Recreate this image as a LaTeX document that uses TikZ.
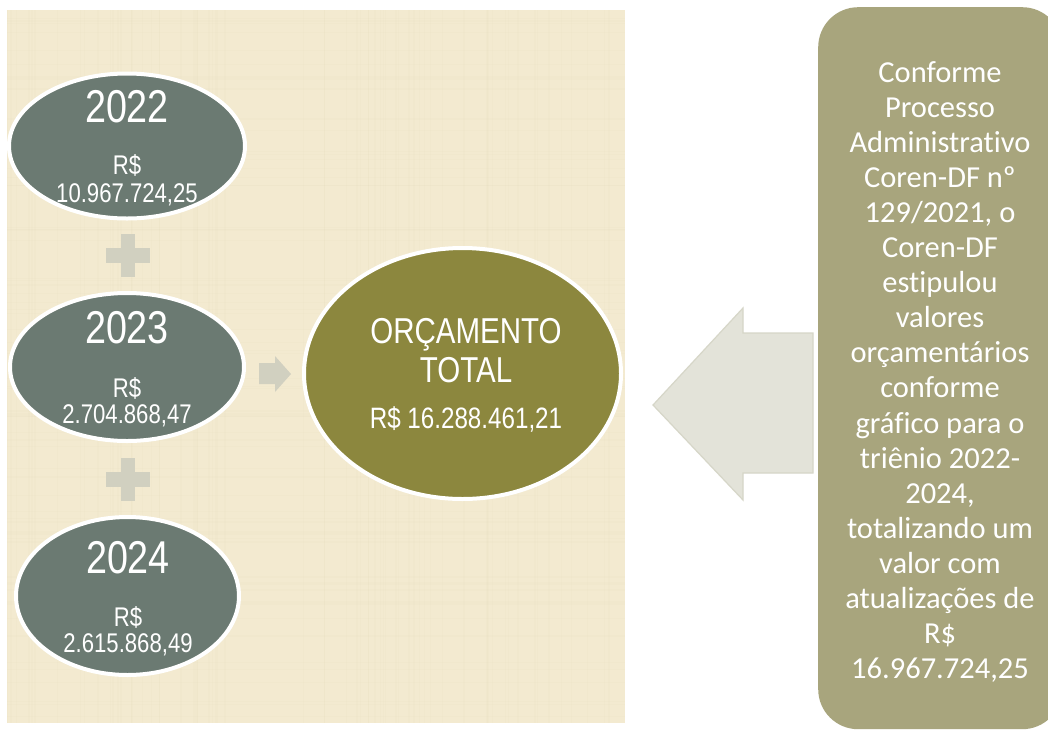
\documentclass[tikz,border=0pt]{standalone}
\usepackage{fontspec}
\setmainfont{Liberation Sans}
\newfontfamily\narfont[FakeStretch=0.82]{Liberation Sans}
\newfontfamily\carlfont[Ligatures={NoCommon,NoContextual}]{Carlito}
\newcommand{\nolig}{\kern0pt }
\usetikzlibrary{shapes.geometric}
\definecolor{bgcream}{RGB}{243,234,208}
\definecolor{bgline}{RGB}{214,202,168}
\definecolor{yearfill}{RGB}{107,122,114}
\definecolor{totalfill}{RGB}{140,135,62}
\definecolor{boxfill}{RGB}{168,165,125}
\definecolor{plusfill}{RGB}{209,208,192}
\definecolor{bigarrow}{RGB}{227,227,217}
\definecolor{bigarrowline}{RGB}{214,214,200}
\begin{document}
\begin{tikzpicture}[x=1pt,y=-1pt,
  ell/.style={ellipse, draw=white, line width=4pt, inner sep=0pt},
  yearell/.style={ell, fill=yearfill},
  totalell/.style={ell, fill=totalfill},
  txt/.style={text=white, inner sep=0pt, anchor=base},
  yeartxt/.style={txt, font=\narfont\fontsize{46}{50}\selectfont},
  amounttxt/.style={txt, font=\narfont\fontsize{27}{30}\selectfont},
  totaltxt/.style={txt, font=\narfont\fontsize{36}{40}\selectfont},
  totalamount/.style={txt, font=\narfont\fontsize{29.5}{33}\selectfont},
  plusshape/.style={fill=plusfill}
]
\useasboundingbox (0,0) rectangle (1048,731);
\fill[white] (0,0) rectangle (1048,731);
% textured background
\fill[bgcream] (7,10) rectangle (625,723);
\begin{scope}
\clip (7,10) rectangle (625,723);
\pgfmathsetseed{11}
\foreach \i in {1,...,70}{
  \pgfmathsetmacro\xx{7+618*rnd}
  \pgfmathsetmacro\ww{0.5+1.5*rnd}
  \draw[bgline, opacity=0.06, line width=\ww pt] (\xx,10) -- (\xx,723);
}
\foreach \i in {1,...,70}{
  \pgfmathsetmacro\yy{10+713*rnd}
  \pgfmathsetmacro\ww{0.5+1.5*rnd}
  \draw[bgline, opacity=0.05, line width=\ww pt] (7,\yy) -- (625,\yy);
}
\end{scope}

% year ellipses
\node[yearell, minimum width=236pt, minimum height=145pt] (e22) at (127,146) {};
\node[yearell, minimum width=234pt, minimum height=148pt] (e23) at (127,367) {};
\node[yearell, minimum width=223pt, minimum height=158pt] (e24) at (127.5,596) {};
\node[totalell, minimum width=317pt, minimum height=251pt] (etot) at (462.5,373.5) {};

\node[yeartxt] (y22) at (127,122) {2022};
\node[amounttxt] (r22) at (127,174) {R\$};
\node[amounttxt] (a22) at (127,202) {10.967.724,25};

\node[yeartxt] (y23) at (127,343) {2023};
\node[amounttxt] (r23) at (127,397) {R\$};
\node[amounttxt] (a23) at (127,423) {2.704.868,47};

\node[yeartxt] (y24) at (128,573) {2024};
\node[amounttxt] (r24) at (128,626) {R\$};
\node[amounttxt] (a24) at (128,652) {2.615.868,49};

\node[totaltxt] (torc) at (466,343) {ORÇAMENTO};
\node[totaltxt] (ttot) at (466,382) {TOTAL};
\node[totalamount] (tamt) at (466,428) {R\$ 16.288.461,21};

% plus signs
\fill[plusshape] (121,234) rectangle (135,277);
\fill[plusshape] (106,248) rectangle (150,263);
\fill[plusshape] (121,458) rectangle (135,501);
\fill[plusshape] (106,472) rectangle (150,487);

% small arrow
\fill[plusshape] (259,363) -- (275,363) -- (275,356) -- (291,374) -- (275,392) -- (275,384) -- (259,384) -- cycle;

% big arrow
\filldraw[fill=bigarrow, draw=bigarrowline, line width=1.2pt, line join=miter]
  (653,405) -- (743,308) -- (743,333) -- (813,333) -- (813,473) -- (743,473) -- (743,500) -- cycle;

% right box
\node[fill=boxfill, rounded corners=40pt, minimum width=244pt, minimum height=722pt,
      anchor=north west, inner sep=0pt] (box) at (818,7) {};
\node[text=white, anchor=base, inner sep=0pt] (boxtxt) at (940,82)
 {\carlfont\fontsize{30.5}{35.1}\selectfont\setlength{\tabcolsep}{0pt}%
  \begin{tabular}[t]{c}
  Conforme\\
  Processo\\
  Administrat\nolig ivo\\
  Coren-DF nº\\
  129/2021, o\\
  Coren-DF\\
  est\nolig ipulou\\
  valores\\
  orçamentários\\
  conforme\\
  gráf\nolig ico para o\\
  triênio 2022-\\
  2024,\\
  totalizando um\\
  valor com\\
  atualizações de\\
  R\$\\
  16.967.724,25
  \end{tabular}};
\end{tikzpicture}
\end{document}
